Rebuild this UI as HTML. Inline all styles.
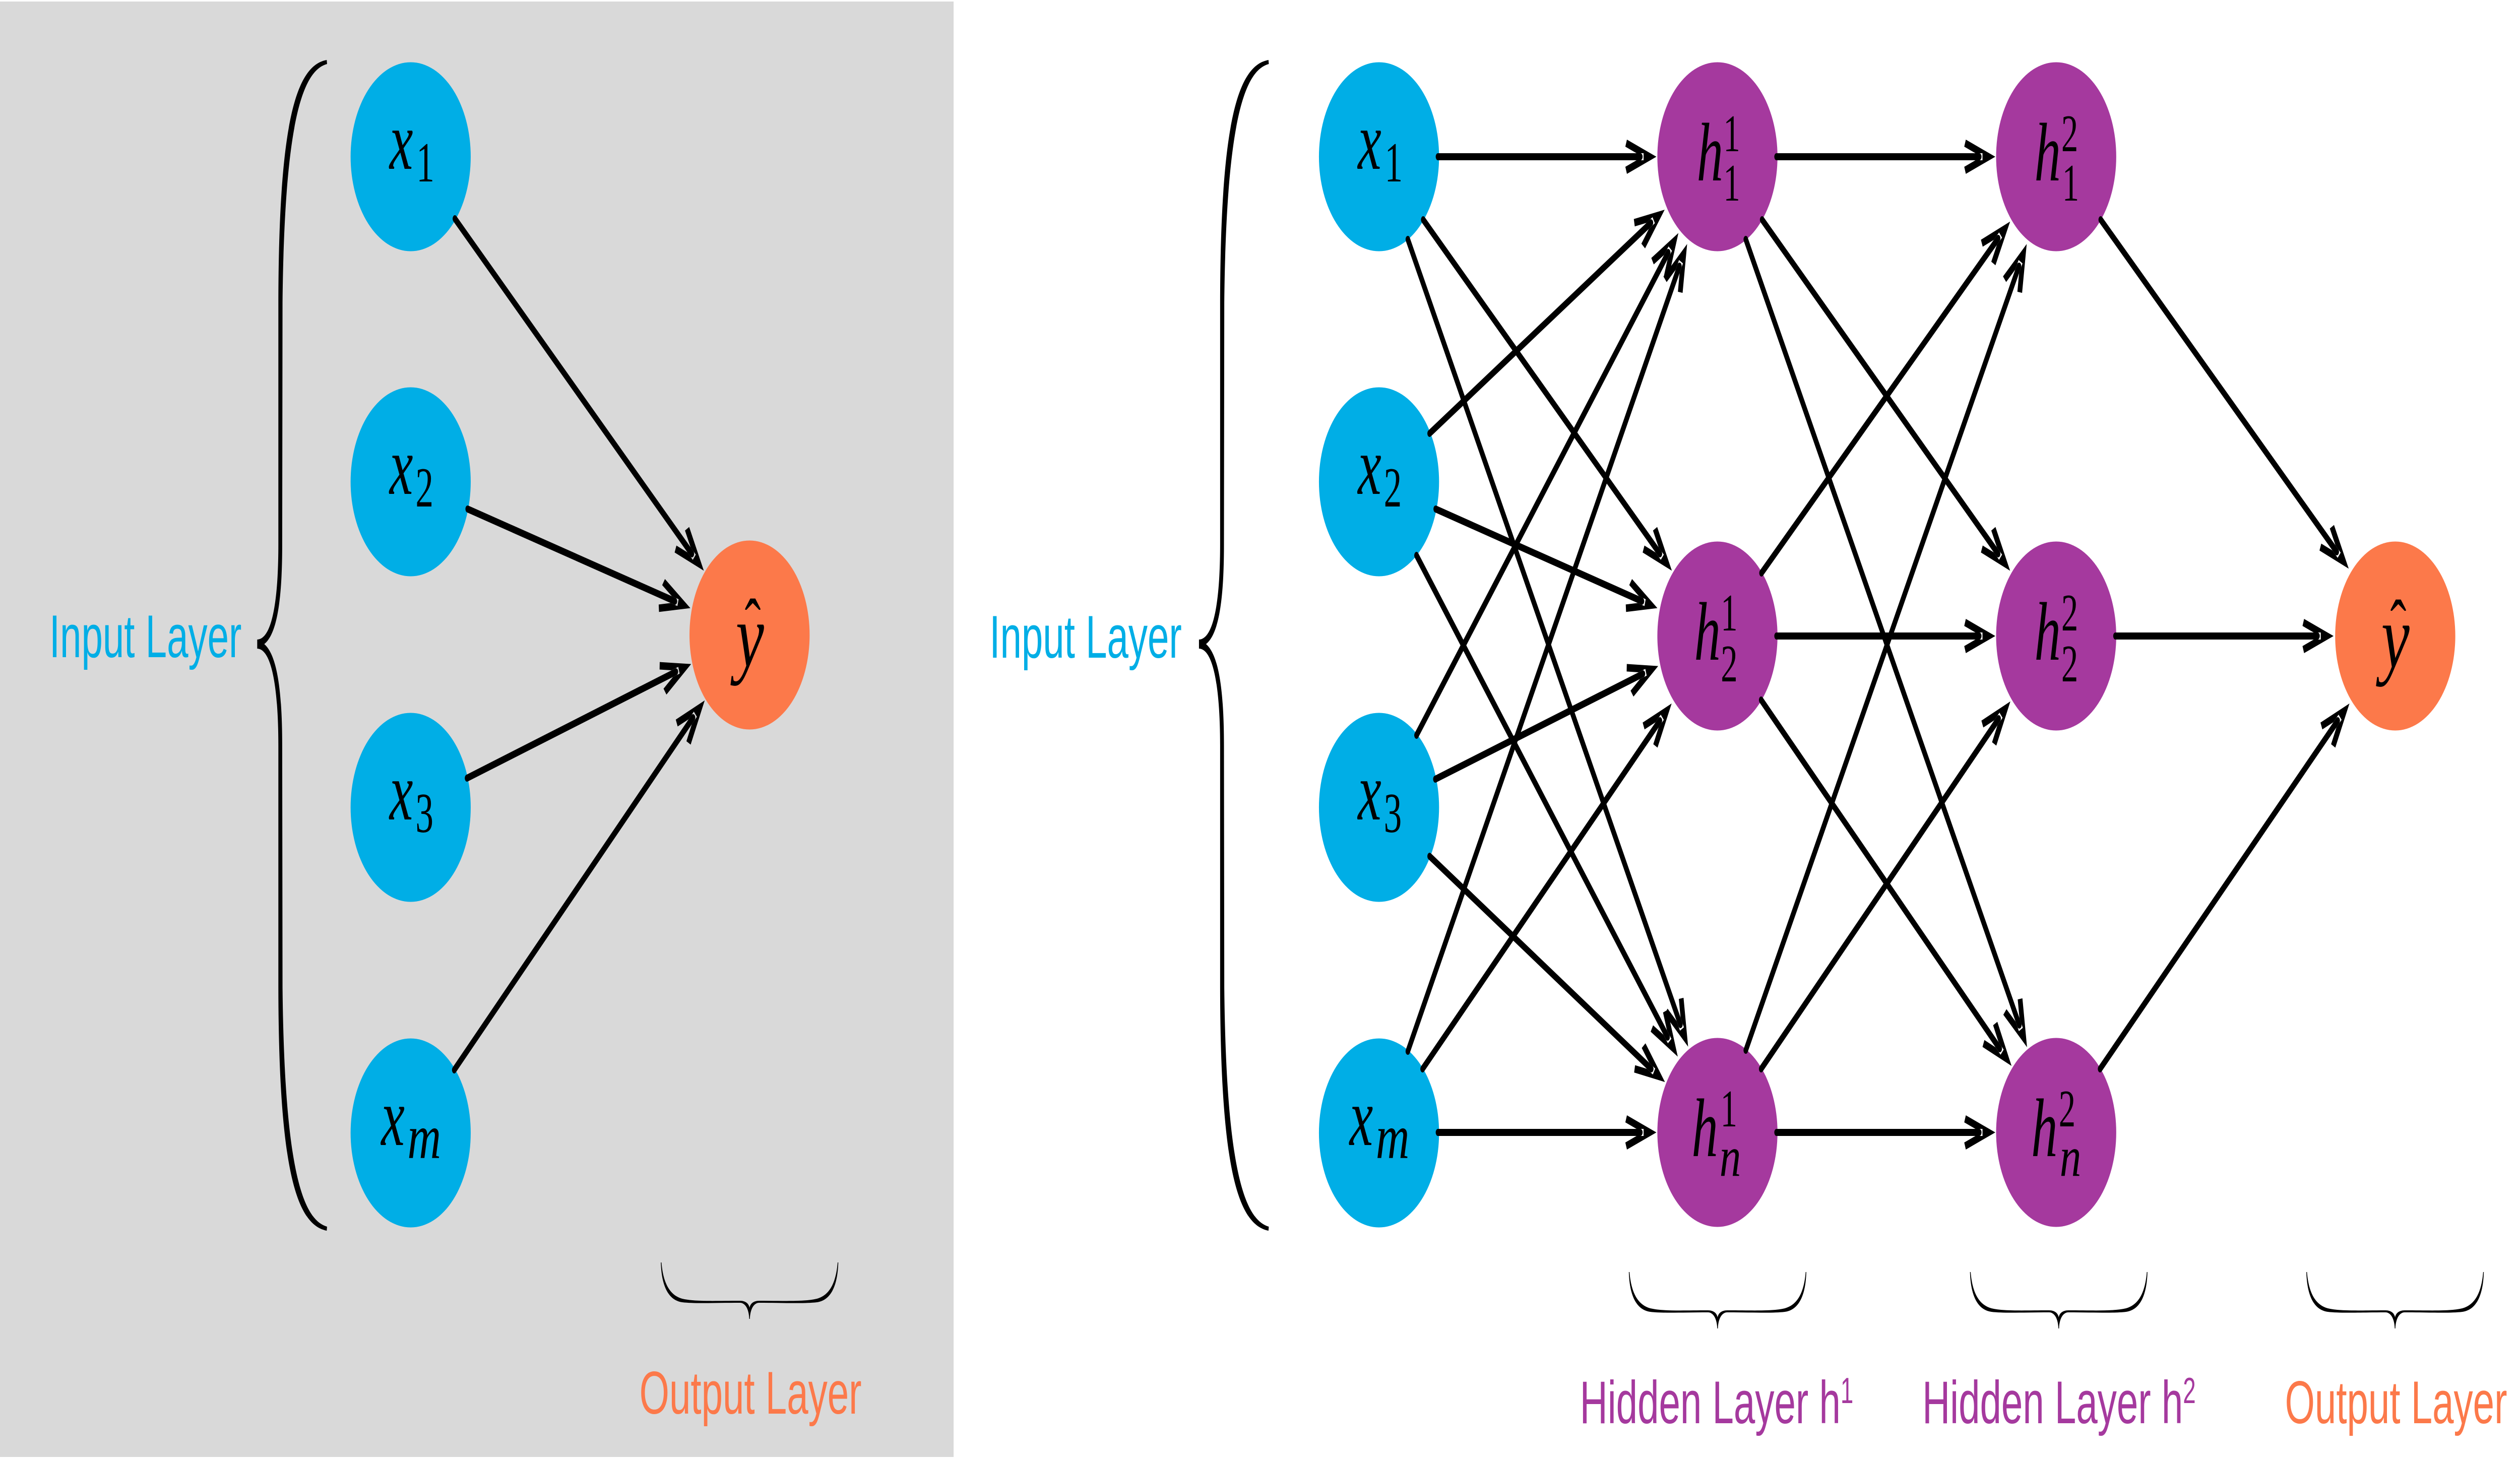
<!DOCTYPE html>
<html>
<head>
<meta charset="utf-8">
<title>Neural network diagrams</title>
<style>
html,body{margin:0;padding:0;background:#fff;width:100%;height:100%;overflow:hidden;}
svg{display:block;position:absolute;left:0;top:0;width:100%;height:100%;}
.e line{stroke:#000;stroke-width:14;stroke-linecap:round;marker-end:url(#ah);}
.m{font-family:"Liberation Serif",serif;font-style:italic;fill:#000;}
.n{font-family:"Liberation Serif",serif;fill:#000;}
.l{font-family:"Liberation Sans",sans-serif;font-size:120px;}
.x{font-size:165px;}
.s{font-size:112px;}
.d{font-size:105px;}
</style>
</head>
<body>
<svg xmlns="http://www.w3.org/2000/svg" viewBox="0 0 7867 2895" preserveAspectRatio="none">
<defs>
<marker id="ah" markerUnits="userSpaceOnUse" markerWidth="112" markerHeight="80" viewBox="-104 -40 112 80" refX="-50" refY="0" orient="auto">
<path d="M0,0 L-92,-34 L-97,-20 L-62,-7 L-40,-7 L-40,7 L-62,7 L-97,20 L-92,34 Z" fill="#000"/>
</marker>
<path id="bb" fill="#000" d="M1020,119 C925,130 870,240 869,600 L869,1080 C869,1190 850,1268 803,1269 L803,1287 C850,1288 869,1370 869,1480 L869,1960 C870,2320 925,2430 1020,2442 L1021,2434 C945,2420 888,2320 882,1960 L881,1480 C881,1370 865,1300 825,1278 C865,1258 881,1190 881,1080 L882,600 C888,240 945,140 1021,127 Z"/>
<path id="sb" fill="#000" d="M-277,0 C-275,45 -255,75 -210,79 C-170,82 -110,80 -30,80 C-14,80 -2,92 -1,112 L1,112 C2,92 14,80 30,80 C110,80 170,82 210,79 C255,75 275,45 277,0 L275,0 C270,40 250,65 210,72 C170,78 110,76 30,76 C12,76 2,82 0,90 C-2,82 -12,76 -30,76 C-110,76 -170,78 -210,72 C-250,65 -270,40 -275,0 Z"/>
</defs>

<rect x="0" y="0" width="7867" height="2895" fill="#fff"/>
<rect x="0" y="3" width="2977" height="2888" fill="#d9d9d9"/>

<!-- LEFT PANEL -->
<use href="#bb"/>
<use href="#sb" transform="translate(2340,2505)"/>

<g fill="#00aee6">
<circle cx="1282" cy="311" r="187.5"/>
<circle cx="1282" cy="956" r="187.5"/>
<circle cx="1282" cy="1602" r="187.5"/>
<circle cx="1282" cy="2248" r="187.5"/>
</g>
<circle cx="2340" cy="1260" r="187.5" fill="#fc794a"/>

<g class="e">
<line x1="1420" y1="434" x2="2160" y2="1099"/>
<line x1="1460" y1="1010" x2="2107" y2="1193"/>
<line x1="1458" y1="1544" x2="2110" y2="1333"/>
<line x1="1418" y1="2123" x2="2163.5" y2="1424"/>
</g>

<text class="l" x="154" y="1304" fill="#00aee6">Input Layer</text>
<text class="l" x="2343" y="2805" fill="#fc794a" text-anchor="middle">Output Layer</text>

<text class="m x" x="1216" y="335">x</text><text class="n s" x="1300" y="360">1</text>
<text class="m x" x="1216" y="980">x</text><text class="n s" x="1297" y="1005">2</text>
<text class="m x" x="1216" y="1626">x</text><text class="n s" x="1297" y="1651">3</text>
<text class="m x" x="1190" y="2272">x</text><text class="m" x="1272" y="2298" font-size="125" textLength="105" lengthAdjust="spacingAndGlyphs">m</text>

<text class="m" x="2297" y="1322" font-size="180" textLength="88" lengthAdjust="spacingAndGlyphs">y</text>
<text class="n" x="2350" y="1292" font-size="150" text-anchor="middle">ˆ</text>

<!-- RIGHT PANEL -->
<use href="#bb" transform="translate(2940,0)"/>
<use href="#sb" transform="translate(5362,2524)"/>
<use href="#sb" transform="translate(6427,2524)"/>
<use href="#sb" transform="translate(7477,2524)"/>

<g fill="#00aee6">
<circle cx="4305" cy="311" r="187.5"/>
<circle cx="4305" cy="956" r="187.5"/>
<circle cx="4305" cy="1602" r="187.5"/>
<circle cx="4305" cy="2248" r="187.5"/>
</g>
<g fill="#a5399e">
<circle cx="5361.5" cy="311" r="187.5"/>
<circle cx="5361.5" cy="1262" r="187.5"/>
<circle cx="5361.5" cy="2247" r="187.5"/>
<circle cx="6419" cy="311" r="187.5"/>
<circle cx="6419" cy="1262" r="187.5"/>
<circle cx="6419" cy="2247" r="187.5"/>
</g>
<circle cx="7477.5" cy="1262" r="187.5" fill="#fc794a"/>

<g class="e">
<line x1="4489" y1="311" x2="5121" y2="311"/>
<line x1="4443" y1="436" x2="5182" y2="1099"/>
<line x1="4395" y1="475" x2="5246" y2="2033"/>
<line x1="4463" y1="860" x2="5154" y2="442"/>
<line x1="4482" y1="1010" x2="5126" y2="1193"/>
<line x1="4422" y1="1102" x2="5206" y2="2058"/>
<line x1="4422" y1="1459" x2="5208" y2="501"/>
<line x1="4481" y1="1546" x2="5129" y2="1337"/>
<line x1="4463" y1="1699" x2="5155" y2="2121"/>
<line x1="4395" y1="2086" x2="5243" y2="528"/>
<line x1="4441" y1="2121" x2="5182" y2="1430"/>
<line x1="4489" y1="2247" x2="5121" y2="2247"/>

<line x1="5546" y1="311" x2="6179" y2="311"/>
<line x1="5501" y1="436" x2="6238" y2="1099"/>
<line x1="5450" y1="475" x2="6304" y2="2034"/>
<line x1="5499" y1="1137" x2="6238" y2="473"/>
<line x1="5546" y1="1262" x2="6179" y2="1262"/>
<line x1="5498" y1="1389" x2="6243" y2="2081"/>
<line x1="5450" y1="2084" x2="6303" y2="528"/>
<line x1="5498" y1="2121" x2="6239.5" y2="1426"/>
<line x1="5546" y1="2247" x2="6179" y2="2247"/>

<line x1="6558" y1="436" x2="7295" y2="1095"/>
<line x1="6604" y1="1262" x2="7235" y2="1262"/>
<line x1="6556" y1="2121" x2="7298" y2="1430"/>
</g>

<text class="l" x="3089" y="1305" fill="#00aee6">Input Layer</text>
<text class="l" x="5359" y="2824" fill="#a5399e" text-anchor="middle">Hidden Layer h<tspan font-size="72" dy="-40">1</tspan></text>
<text class="l" x="6428" y="2824" fill="#a5399e" text-anchor="middle">Hidden Layer h<tspan font-size="72" dy="-40">2</tspan></text>
<text class="l" x="7480" y="2824" fill="#fc794a" text-anchor="middle">Output Layer</text>

<text class="m x" x="4239" y="335">x</text><text class="n s" x="4323" y="360">1</text>
<text class="m x" x="4239" y="980">x</text><text class="n s" x="4320" y="1005">2</text>
<text class="m x" x="4239" y="1626">x</text><text class="n s" x="4320" y="1651">3</text>
<text class="m x" x="4213" y="2272">x</text><text class="m" x="4295" y="2298" font-size="125" textLength="105" lengthAdjust="spacingAndGlyphs">m</text>

<text class="m x" x="5297" y="358">h</text><text class="n d" x="5380" y="300">1</text><text class="n d" x="5380" y="398">1</text>
<text class="m x" x="5289" y="1309">h</text><text class="n d" x="5372" y="1251">1</text><text class="n d" x="5372" y="1352">2</text>
<text class="m x" x="5281" y="2294">h</text><text class="n d" x="5371" y="2235">1</text><text class="m s" x="5368" y="2333" textLength="67" lengthAdjust="spacingAndGlyphs">n</text>

<text class="m x" x="6351" y="358">h</text><text class="n d" x="6435" y="300">2</text><text class="n d" x="6438" y="398">1</text>
<text class="m x" x="6351" y="1309">h</text><text class="n d" x="6435" y="1251">2</text><text class="n d" x="6435" y="1352">2</text>
<text class="m x" x="6341" y="2294">h</text><text class="n d" x="6427" y="2235">2</text><text class="m s" x="6430" y="2333" textLength="67" lengthAdjust="spacingAndGlyphs">n</text>

<text class="m" x="7434" y="1324" font-size="180" textLength="88" lengthAdjust="spacingAndGlyphs">y</text>
<text class="n" x="7487" y="1294" font-size="150" text-anchor="middle">ˆ</text>
</svg>
</body>
</html>
